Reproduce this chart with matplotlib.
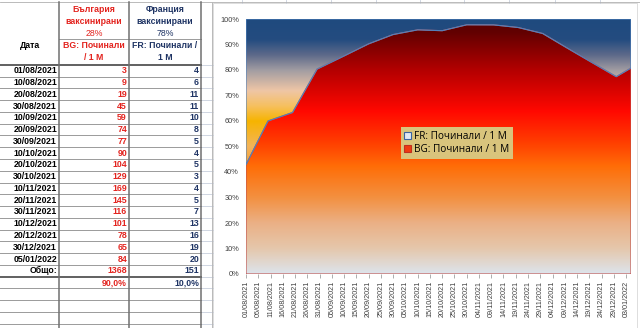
import numpy as np
import matplotlib
matplotlib.use("Agg")
import matplotlib.pyplot as plt
import matplotlib.dates as mdates
from matplotlib.colors import LinearSegmentedColormap
from matplotlib.patches import Patch, Rectangle
from datetime import datetime

# table / chart data
dates = ["01/08/2021", "10/08/2021", "20/08/2021", "30/08/2021", "10/09/2021",
         "20/09/2021", "30/09/2021", "10/10/2021", "20/10/2021", "30/10/2021",
         "10/11/2021", "20/11/2021", "30/11/2021", "10/12/2021", "20/12/2021",
         "30/12/2021", "05/01/2022"]
bg_deaths = [3, 9, 19, 45, 59, 74, 77, 90, 104, 129, 169, 145, 116, 101, 78, 65, 84]
fr_deaths = [4, 6, 11, 11, 10, 8, 5, 4, 5, 3, 4, 5, 7, 13, 16, 19, 20]
bg_total_txt = "1368"
fr_total_txt = "151"
bg_share_txt = "90,0%"
fr_share_txt = "10,0%"
bg_head = ["България", "ваксинирани", "28%"]
fr_head = ["Франция", "ваксинирани", "78%"]
bg_series = "BG: Починали / 1 M"
fr_series = "FR: Починали / 1 M"

RED = "#e3241f"
NAVY = "#1f3464"
TFONT = "Liberation Sans"

fig = plt.figure(figsize=(6.4, 3.28), dpi=100)
fig.patch.set_facecolor("white")

# background "sheet" axes in pixel coords
bg = fig.add_axes([0, 0, 1, 1])
bg.set_xlim(0, 640)
bg.set_ylim(328, 0)
bg.axis("off")

row0 = 70.7
rh = 11.77
n_rows = len(dates)

# faint spreadsheet gridlines
for k in range(24):
    yb = row0 - rh / 2 + rh * k
    if yb < 328:
        bg.plot([201, 213], [yb, yb], color="#c8cfdc", lw=0.6)
for xc in [242, 286, 331, 376, 420, 464, 509, 555, 600]:
    bg.plot([xc, xc], [0, 3], color="#c8cfdc", lw=0.6)
bg.plot([0, 640], [2, 2], color="#b0b0b0", lw=0.6)

# table borders
for k in range(n_rows + 6):
    yb = row0 - rh / 2 + rh * k
    lw = 1.4 if k in (0, n_rows + 1) else 0.7
    col = "#606060" if k in (0, n_rows + 1) else "#9a9a9a"
    bg.plot([0, 201], [yb, yb], color=col, lw=lw)
bg.plot([59, 201], [39, 39], color="#9a9a9a", lw=0.7)
for xc in [59, 129, 201]:
    bg.plot([xc, xc], [2, 328], color="#707070", lw=1.1)
bg.plot([212, 212], [2, 328], color="#b8b8b8", lw=0.7)

# header texts
for i, (a, b) in enumerate(zip(bg_head, fr_head)):
    w = "normal" if i == 2 else "bold"
    y = 9 + 12 * i
    bg.text(94, y, a, color=RED, fontsize=6.3, fontweight=w, family=TFONT,
            ha="center", va="center")
    bg.text(165, y, b, color=NAVY, fontsize=6.3, fontweight=w, family=TFONT,
            ha="center", va="center")
bg.text(30, 45, "Дата", fontsize=6.3, fontweight="bold", family=TFONT,
        ha="center", va="center")
bg.text(94, 45, "BG: Починали", color=RED, fontsize=6.3, fontweight="bold",
        family=TFONT, ha="center", va="center")
bg.text(94, 57, "/ 1 M", color=RED, fontsize=6.3, fontweight="bold",
        family=TFONT, ha="center", va="center")
bg.text(165, 45, "FR: Починали /", color=NAVY, fontsize=6.3, fontweight="bold",
        family=TFONT, ha="center", va="center")
bg.text(165, 57, "1 M", color=NAVY, fontsize=6.3, fontweight="bold",
        family=TFONT, ha="center", va="center")

# data rows
for i, (d, b, f) in enumerate(zip(dates, bg_deaths, fr_deaths)):
    y = row0 + rh * i
    bg.text(57, y, d, fontsize=6.3, fontweight="bold", family=TFONT, ha="right", va="center")
    bg.text(127, y, str(b), color=RED, fontsize=6.3, fontweight="bold", family=TFONT,
            ha="right", va="center")
    bg.text(199, y, str(f), color=NAVY, fontsize=6.3, fontweight="bold", family=TFONT,
            ha="right", va="center")
y = row0 + rh * n_rows
bg.text(57, y, "Общо:", fontsize=6.3, fontweight="bold", family=TFONT, ha="right", va="center")
bg.text(127, y, bg_total_txt, color=RED, fontsize=6.3, fontweight="bold", family=TFONT,
        ha="right", va="center")
bg.text(199, y, fr_total_txt, color=NAVY, fontsize=6.3, fontweight="bold", family=TFONT,
        ha="right", va="center")
y += rh
bg.text(127, y, bg_share_txt, color=RED, fontsize=6.3, fontweight="bold", family=TFONT,
        ha="right", va="center")
bg.text(199, y, fr_share_txt, color=NAVY, fontsize=6.3, fontweight="bold", family=TFONT,
        ha="right", va="center")

# chart area
bg.add_patch(Rectangle((213, 3), 424, 325, facecolor="white", edgecolor="#d8d8d8", lw=0.6))

ax = fig.add_axes([246 / 640, (328 - 274) / 328, (631 - 246) / 640, (274 - 19) / 328])
ax.set_facecolor("none")

x = mdates.date2num([datetime.strptime(d, "%d/%m/%Y") for d in dates])
bgv = np.array(bg_deaths, dtype=float)
frv = np.array(fr_deaths, dtype=float)
share = bgv / (bgv + frv)

x0 = mdates.date2num(datetime(2021, 8, 1))
x1 = mdates.date2num(datetime(2022, 1, 5))
ax.set_xlim(x0, x1)
ax.set_ylim(0, 1)

cm_bg = LinearSegmentedColormap.from_list("bg", [
    (0.0, "#dde4ec"), (0.10, "#e5c7ab"), (0.20, "#ebb085"), (0.30, "#f39040"),
    (0.42, "#ff6e08"), (0.52, "#ff3c00"), (0.64, "#ff0800"), (0.80, "#b40000"),
    (0.95, "#620000"), (1.0, "#580000")])
cm_fr = LinearSegmentedColormap.from_list("fr", [
    (0.0, "#f59020"), (0.40, "#f59a28"), (0.50, "#f3b45a"), (0.60, "#f7b400"),
    (0.66, "#f6c060"), (0.72, "#efc6a6"), (0.80, "#a29da2"), (0.86, "#5e6a8a"),
    (0.92, "#244c80"), (1.0, "#1f4a7e")])

grad = np.linspace(0, 1, 256).reshape(-1, 1)

poly_bg = ax.fill_between(x, 0, share, facecolor="none", edgecolor="#c0504d", lw=0.8, zorder=3)
poly_fr = ax.fill_between(x, share, 1, facecolor="none", edgecolor="#4f81bd", lw=0.8, zorder=3)

for poly, cmap in [(poly_bg, cm_bg), (poly_fr, cm_fr)]:
    im = ax.imshow(grad, cmap=cmap, origin="lower", aspect="auto",
                   extent=[x0, x1, 0, 1], zorder=1, interpolation="bilinear")
    im.set_clip_path(poly.get_paths()[0], transform=ax.transData)
ax.set_xlim(x0, x1)
ax.set_ylim(0, 1)

for s in ax.spines.values():
    s.set_visible(False)

ax.set_yticks(np.arange(0, 1.01, 0.1))
ax.set_yticklabels([f"{int(round(v * 100))}%" for v in np.arange(0, 1.01, 0.1)],
                   fontsize=5.3, color="#404040", family=TFONT)
ax.tick_params(axis="y", length=0, pad=5)

xt = np.arange(x0, mdates.date2num(datetime(2022, 1, 3)) + 0.5, 5)
ax.set_xticks(xt)
ax.set_xticklabels([mdates.num2date(v).strftime("%d/%m/%Y") for v in xt],
                   rotation=90, fontsize=5.2, color="#404040", family=TFONT)
ax.tick_params(axis="x", length=3, color="#a0a0a0", width=0.6, pad=2)

handles = [Patch(facecolor="#dfe8f2", edgecolor="#3a64a0", lw=0.8, label=fr_series),
           Patch(facecolor="#f03a10", edgecolor="#c03020", lw=0.8, label=bg_series)]
leg = ax.legend(handles=handles, loc="center", bbox_to_anchor=(0.548, 0.514),
                prop={"family": "Open Sans", "size": 7.2}, frameon=True, fancybox=False,
                handlelength=0.7, handleheight=0.7, handletextpad=0.3,
                borderpad=0.35, labelspacing=0.25)
leg.get_frame().set_facecolor("#d9c47c")
leg.get_frame().set_edgecolor("none")
leg.get_frame().set_alpha(1)
leg.set_zorder(5)

fig.savefig("out.png", dpi=100)
